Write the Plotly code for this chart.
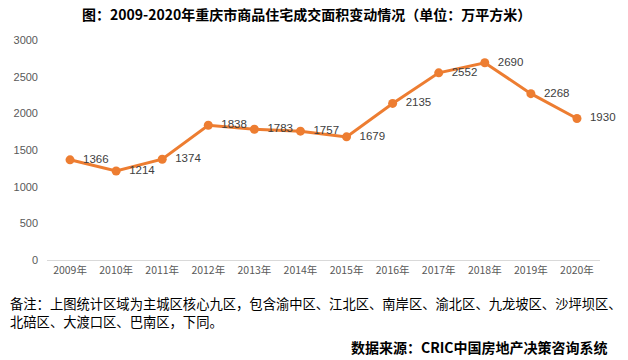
import plotly.graph_objects as go

years = ["2009年", "2010年", "2011年", "2012年", "2013年", "2014年",
         "2015年", "2016年", "2017年", "2018年", "2019年", "2020年"]
area = [1366, 1214, 1374, 1838, 1783, 1757, 1679, 2135, 2552, 2690, 2268, 1930]
y_ticks = [0, 500, 1000, 1500, 2000, 2500, 3000]

title = "图：2009-2020年重庆市商品住宅成交面积变动情况（单位：万平方米）"
note1 = "备注：上图统计区域为主城区核心九区，包含渝中区、江北区、南岸区、渝北区、九龙坡区、沙坪坝区、"
note2 = "北碚区、大渡口区、巴南区，下同。"
source = "数据来源：CRIC中国房地产决策咨询系统"

L, R, T, B = 47, 28, 40, 100
PW = 628 - L - R

fig = go.Figure()
fig.add_trace(go.Scatter(
    x=years, y=area, mode="lines+markers+text",
    line=dict(color="#ED7D31", width=3),
    marker=dict(color="#ED7D31", size=9),
    text=["  " + str(v) for v in area],
    textposition="middle right",
    textfont=dict(family="Liberation Sans, sans-serif", size=11.5, color="#404040"),
    cliponaxis=False,
    hoverinfo="skip",
))

fig.update_layout(
    width=628, height=360,
    margin=dict(l=L, r=R, t=T, b=B),
    paper_bgcolor="white", plot_bgcolor="white",
    showlegend=False,
    font=dict(family="Noto Sans CJK SC, sans-serif", color="#595959"),
    xaxis=dict(
        type="category", showgrid=False, showline=True, linecolor="#D9D9D9",
        linewidth=1, ticks="", tickfont=dict(size=10.5, color="#595959"),
        range=[-0.5, 11.5], fixedrange=True,
    ),
    yaxis=dict(
        range=[0, 3000], tickvals=y_ticks, showgrid=False, zeroline=False,
        showline=False, ticks="",
        tickfont=dict(size=11, color="#595959", family="Liberation Sans, sans-serif"),
        ticklabelstandoff=8,
    ),
    annotations=[
        dict(text="<b>" + title + "</b>", xref="paper", yref="paper",
             x=(306 - L) / PW, y=1, xanchor="center", yanchor="middle", yshift=26,
             showarrow=False, font=dict(size=14, color="#000000",
                                        family="Noto Sans CJK SC")),
        dict(text=note1, xref="paper", yref="paper", x=(8 - L) / PW, y=0,
             xanchor="left", yanchor="middle", yshift=-43.5, showarrow=False,
             font=dict(size=13.3, color="#000000", family="Noto Sans CJK SC")),
        dict(text=note2, xref="paper", yref="paper", x=(8 - L) / PW, y=0,
             xanchor="left", yanchor="middle", yshift=-61, showarrow=False,
             font=dict(size=13.3, color="#000000", family="Noto Sans CJK SC")),
        dict(text="<b>" + source + "</b>", xref="paper", yref="paper",
             x=(610 - L) / PW, y=0, xanchor="right", yanchor="middle", yshift=-87,
             showarrow=False,
             font=dict(size=14, color="#000000", family="Noto Sans CJK SC")),
    ],
)

fig.write_html("out.html", config={"displayModeBar": False},
               post_script="document.body.style.margin='0';")
